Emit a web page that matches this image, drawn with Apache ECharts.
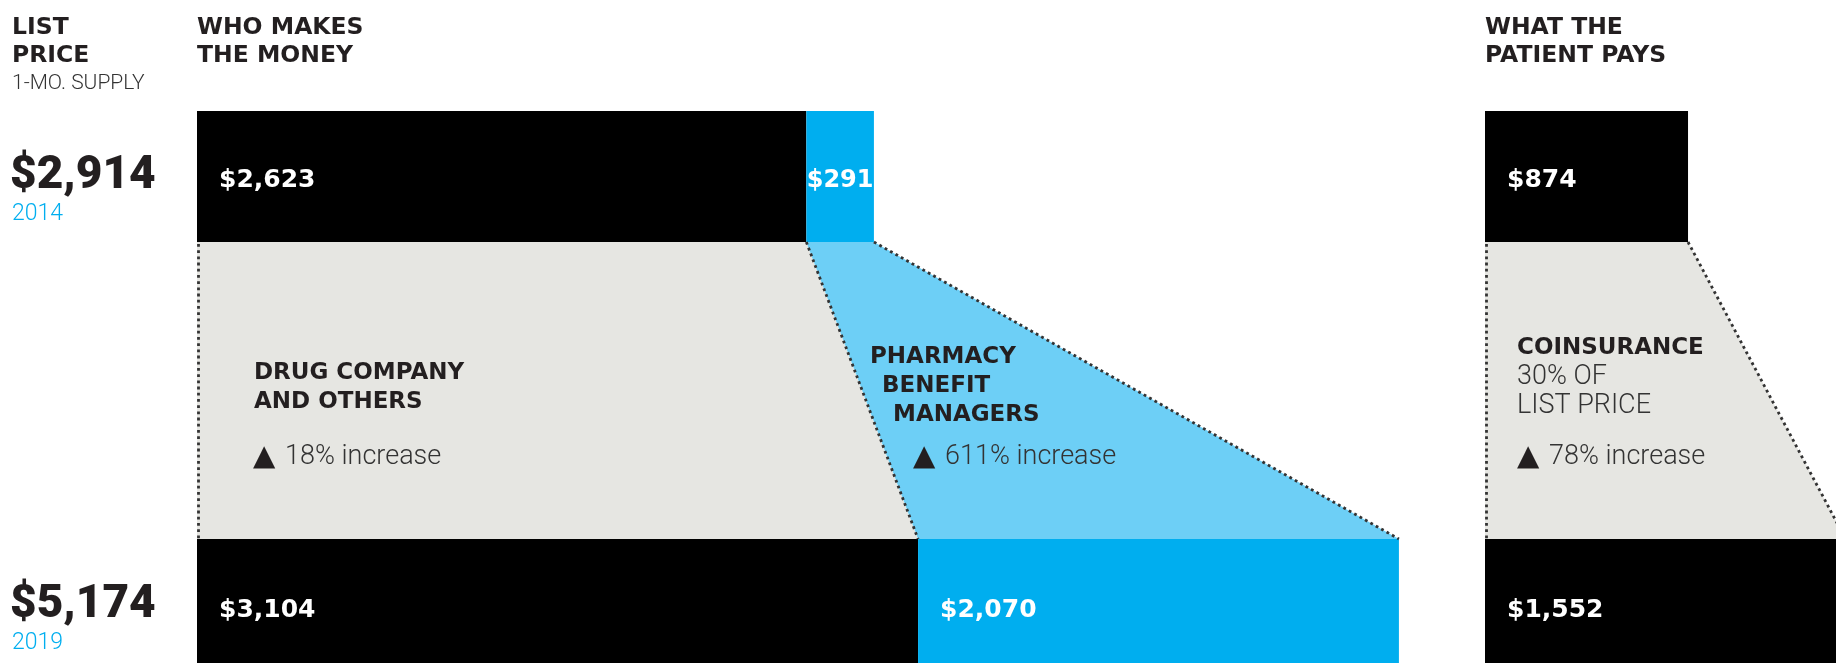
<!DOCTYPE html>
<html><head><meta charset="utf-8">
<script src="https://cdn.jsdelivr.net/npm/echarts@6/dist/echarts.min.js"></script>
<style>html,body{margin:0;padding:0;background:#fff}#c{width:1836px;height:663px}</style>
</head><body><div id="c"></div>
<script>
// ---- data ----
const years = ['2014', '2019'];
const listPrice = [2914, 5174];
const drugCompany = [2623, 3104];
const pbm = [291, 2070];
const patientPays = [874, 1552];
const increaseLabels = ['18% increase', '611% increase', '78% increase'];

// ---- layout ----
const PX = 0.2323;              // px per dollar
const L1 = 197, L2 = 1485;
const T0 = 111, H0 = 131, T1 = 539, H1 = 124;
const MAX1 = 6000, MAX2 = 1500;
const DARK = '#231f20', BLUE = '#00aeef', LBLUE = '#6dcff6', GRAY = '#e6e6e2';
const BOLD = 'DejaVu Sans';
const LIGHT = 'Roboto';

const money = v => '$' + Number(v).toLocaleString('en-US');

const chart = echarts.init(document.getElementById('c'), null, {renderer: 'canvas'});

const rowOffset = [4, 9];
function bar(name, axis, row, stack, value, color, labelOverride) {
  return {
    name, type: 'bar', xAxisIndex: axis, yAxisIndex: axis, stack,
    barWidth: '100%', barCategoryGap: 0, clip: false,
    itemStyle: {color},
    label: Object.assign({
      show: true, position: 'insideLeft', distance: 22, color: '#fff',
      fontFamily: BOLD, fontWeight: 'bold', fontSize: 25, offset: [0, rowOffset[row]],
      formatter: p => money(p.value)
    }, labelOverride || {}),
    data: [value], silent: true
  };
}

chart.setOption({
  animation: false,
  backgroundColor: '#fff',
  grid: [
    {left: L1, top: T0, width: MAX1 * PX, height: H0},
    {left: L1, top: T1, width: MAX1 * PX, height: H1},
    {left: L2, top: T0, width: MAX2 * PX, height: H0},
    {left: L2, top: T1, width: MAX2 * PX, height: H1}
  ],
  xAxis: [0, 1, 2, 3].map(i => ({type: 'value', gridIndex: i, min: 0, max: i < 2 ? MAX1 : MAX2, show: false})),
  yAxis: [0, 1, 2, 3].map(i => ({type: 'category', gridIndex: i, data: [years[i % 2]], show: false})),
  series: [
    bar('Drug company and others', 0, 0, 's0', drugCompany[0], '#000'),
    bar('Pharmacy benefit managers', 0, 0, 's0', pbm[0], BLUE, {position: 'inside', fontSize: 24}),
    bar('Drug company and others', 1, 1, 's1', drugCompany[1], '#000'),
    bar('Pharmacy benefit managers', 1, 1, 's1', pbm[1], BLUE),
    bar('Patient pays', 2, 0, 's2', patientPays[0], '#000'),
    bar('Patient pays', 3, 1, 's3', patientPays[1], '#000')
  ]
});

// ---- connecting trapezoids, computed from the axes ----
const px = (axis, v) => chart.convertToPixel({xAxisIndex: axis}, v);
const yA = T0 + H0, yB = T1;
const x0a = px(0, 0), x0b = px(0, drugCompany[0]), x0c = px(0, drugCompany[0] + pbm[0]);
const x1a = px(1, 0), x1b = px(1, drugCompany[1]), x1c = px(1, drugCompany[1] + pbm[1]);
const p0a = px(2, 0), p0b = px(2, patientPays[0]);
const p1a = px(3, 0), p1b = px(3, patientPays[1]);

const poly = (pts, fill) => ({type: 'polygon', z: 1, silent: true, shape: {points: pts}, style: {fill}});
const dots = (a, b) => ({type: 'line', z: 3, silent: true, shape: {x1: a[0], y1: a[1], x2: b[0], y2: b[1]},
  style: {stroke: '#333', lineWidth: 2.8, lineDash: [2.8, 3.4], lineCap: 'butt'}});
const txt = (x, y, text, font, fill) => ({type: 'text', z: 5, silent: true,
  style: {x, y: y + 2.5, text, font, fill: fill || DARK, textAlign: 'left', textVerticalAlign: 'middle', align: 'left', verticalAlign: 'middle'}});

const hb = 'bold 23.5px "' + BOLD + '"';
const sb = 'bold 23px "' + BOLD + '"';
const lt = (s) => '300 ' + s + 'px "' + LIGHT + '"';
const big = '900 46px "Roboto"';
const tri = '29px "DejaVu Sans"';

const graphics = [
  poly([[x0a, yA], [x0b, yA], [x1b, yB], [x1a, yB]], GRAY),
  poly([[x0b, yA], [x0c, yA], [x1c, yB], [x1b, yB]], LBLUE),
  poly([[p0a, yA], [p0b, yA], [p1b, yB], [p1a, yB]], GRAY),
  dots([x0a + 1.5, yA + 2], [x1a + 1.5, yB]),
  dots([x0b, yA], [x1b, yB]),
  dots([x0c, yA], [x1c, yB]),
  dots([p0a + 1.5, yA + 2], [p1a + 1.5, yB]),
  dots([p0b, yA], [p1b, yB]),

  txt(12, 25, 'LIST', hb), txt(12, 53.5, 'PRICE', hb),
  txt(12, 81, '1-MO. SUPPLY', lt(21), '#333'),
  txt(197, 25, 'WHO MAKES', hb), txt(197, 53.5, 'THE MONEY', hb),
  txt(1485, 25, 'WHAT THE', hb), txt(1485, 53.5, 'PATIENT PAYS', hb),

  txt(10, 174, money(listPrice[0]), big), txt(12, 212, years[0], lt(23), BLUE),
  txt(10, 603, money(listPrice[1]), big), txt(12, 641, years[1], lt(23), BLUE),

  txt(254, 370.5, 'DRUG COMPANY', sb), txt(254, 399.5, 'AND OTHERS', sb),
  txt(253, 455, '▲', tri), txt(285, 455, increaseLabels[0], lt(27), '#333'),

  txt(870, 354.5, 'PHARMACY', sb), txt(882, 383.5, 'BENEFIT', sb), txt(893, 412.5, 'MANAGERS', sb),
  txt(913, 455, '▲', tri), txt(945, 455, increaseLabels[1], lt(27), '#333'),

  txt(1517, 346, 'COINSURANCE', sb),
  txt(1517, 374.5, '30% OF', lt(27), '#333'), txt(1517, 403.5, 'LIST PRICE', lt(27), '#333'),
  txt(1517, 455, '▲', tri), txt(1549, 455, increaseLabels[2], lt(27), '#333')
];

chart.setOption({graphic: {elements: graphics}});
</script>
</body></html>
